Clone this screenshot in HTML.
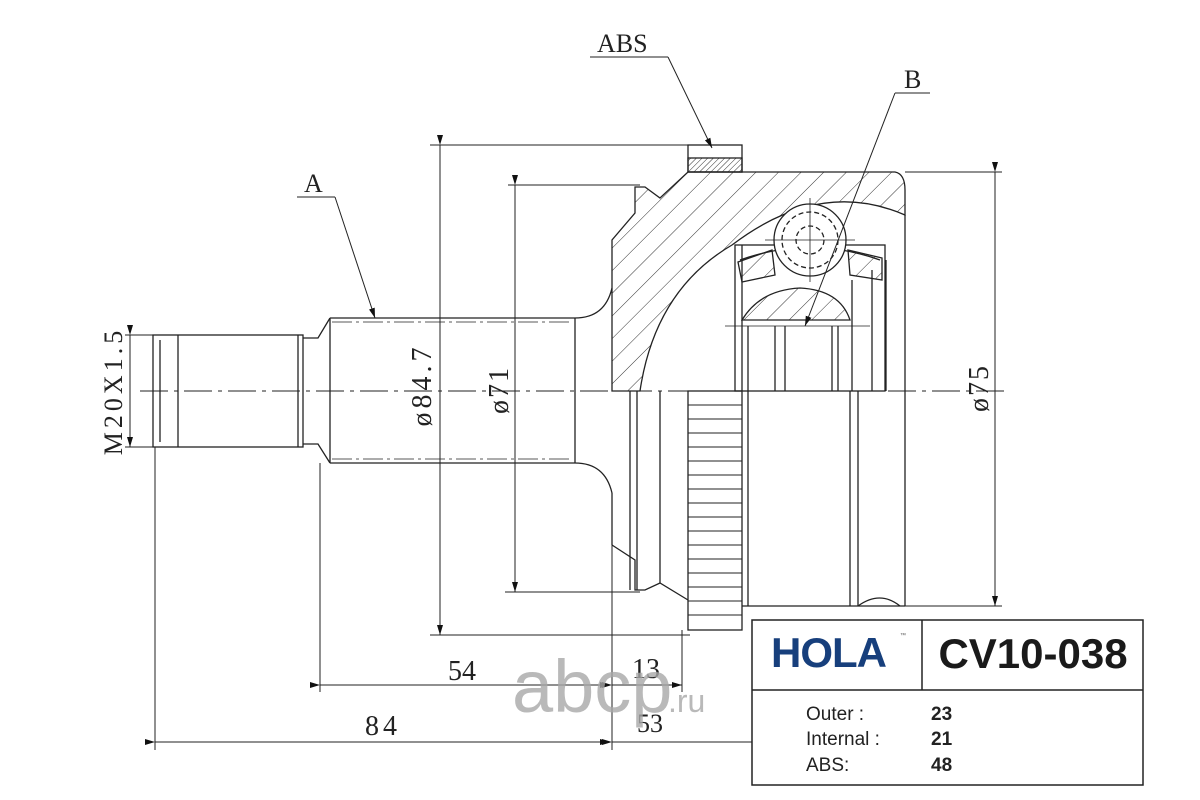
<!DOCTYPE html>
<html><head><meta charset="utf-8"><style>
html,body{margin:0;padding:0;background:#fff;}
svg{display:block;}
.s{font-family:"Liberation Serif",serif;fill:#222;}
</style></head><body>
<svg width="1200" height="800" viewBox="0 0 1200 800" xmlns="http://www.w3.org/2000/svg">
<defs>
<pattern id="h" width="16" height="16" patternUnits="userSpaceOnUse" patternTransform="rotate(45)">
<line x1="0" y1="0" x2="0" y2="16" stroke="#333" stroke-width="1"/></pattern>
<pattern id="h2" width="4" height="4" patternUnits="userSpaceOnUse" patternTransform="rotate(45)">
<line x1="0" y1="0" x2="0" y2="4" stroke="#333" stroke-width="1"/></pattern>
<marker id="ar" markerWidth="10" markerHeight="6" refX="10" refY="3" orient="auto" markerUnits="userSpaceOnUse"><path d="M0,0 L10,3 L0,6 Z" fill="#111"/></marker>
</defs>
<g stroke="#222" stroke-width="1.3" fill="none">
<line x1="140" y1="391" x2="1010" y2="391" stroke-dasharray="28,6,4,6" stroke-width="1"/>
<rect x="153" y="335" width="150" height="112"/>
<line x1="160" y1="340" x2="160" y2="442"/>
<line x1="178" y1="335" x2="178" y2="447"/>
<line x1="298" y1="335" x2="298" y2="447"/>
<polyline points="303,338 318,338 330,318"/>
<polyline points="303,444 318,444 330,463"/>
<line x1="330" y1="318" x2="575" y2="318"/>
<line x1="330" y1="463" x2="575" y2="463"/>
<line x1="330" y1="318" x2="330" y2="463"/>
<line x1="575" y1="318" x2="575" y2="463"/>
<line x1="332" y1="322" x2="573" y2="322" stroke-dasharray="20,4,3,4" stroke-width="0.8"/>
<line x1="332" y1="459" x2="573" y2="459" stroke-dasharray="20,4,3,4" stroke-width="0.8"/>
<path d="M575,318 Q605,318 612,288"/>
<path d="M575,463 Q605,463 612,493"/>
<path d="M612,391 L612,240 L635,213 L635,187 L645,187 L660,198 L688,172 L895,172 Q905,174 905,190 L905,215 Q820,178 732,245 Q655,290 640,391 Z" fill="url(#h)"/>
<rect x="688" y="145" width="54" height="27"/>
<rect x="688" y="158" width="54" height="14" fill="url(#h2)"/>
<path d="M905,215 L905,606"/>
<rect x="735" y="245" width="150" height="146" fill="none"/>
<path d="M740,260 Q810,235 880,260" />
<path d="M742,320 Q760,290 800,288 Q840,290 850,320 Z" fill="url(#h)"/>
<path d="M738,262 L772,250 L775,275 L742,282 Z" fill="url(#h)"/>
<path d="M848,250 L882,258 L882,280 L850,275 Z" fill="url(#h)"/>
<circle cx="810" cy="240" r="36" fill="#fff"/>
<circle cx="810" cy="240" r="28" stroke-dasharray="5,3"/>
<circle cx="810" cy="240" r="14" stroke-dasharray="5,3"/>
<line x1="765" y1="240" x2="855" y2="240" stroke-width="0.8"/>
<line x1="810" y1="198" x2="810" y2="282" stroke-width="0.8"/>
<line x1="725" y1="326" x2="870" y2="326" stroke-width="0.8"/>
<line x1="742" y1="245" x2="742" y2="391"/>
<line x1="748" y1="326" x2="748" y2="391"/>
<line x1="775" y1="326" x2="775" y2="391"/>
<line x1="785" y1="326" x2="785" y2="391"/>
<line x1="832" y1="326" x2="832" y2="391"/>
<line x1="838" y1="326" x2="838" y2="391"/>
<line x1="852" y1="280" x2="852" y2="391"/>
<line x1="872" y1="270" x2="872" y2="391"/>
<line x1="886" y1="260" x2="886" y2="391"/>
<line x1="612" y1="493" x2="612" y2="545"/>
<polyline points="612,545 635,560 635,590 645,590 660,583 688,600"/>
<line x1="630" y1="391" x2="630" y2="590"/>
<line x1="637" y1="391" x2="637" y2="590"/>
<line x1="660" y1="391" x2="660" y2="583"/>
<rect x="688" y="391" width="54" height="239"/>
<g stroke-width="1">
<line x1="688" y1="405" x2="742" y2="405"/><line x1="688" y1="419" x2="742" y2="419"/><line x1="688" y1="433" x2="742" y2="433"/><line x1="688" y1="447" x2="742" y2="447"/><line x1="688" y1="461" x2="742" y2="461"/><line x1="688" y1="475" x2="742" y2="475"/><line x1="688" y1="489" x2="742" y2="489"/><line x1="688" y1="503" x2="742" y2="503"/><line x1="688" y1="517" x2="742" y2="517"/><line x1="688" y1="531" x2="742" y2="531"/><line x1="688" y1="545" x2="742" y2="545"/><line x1="688" y1="559" x2="742" y2="559"/><line x1="688" y1="573" x2="742" y2="573"/><line x1="688" y1="587" x2="742" y2="587"/><line x1="688" y1="601" x2="742" y2="601"/><line x1="688" y1="615" x2="742" y2="615"/>
</g>
<line x1="748" y1="391" x2="748" y2="606"/>
<line x1="850" y1="391" x2="850" y2="606"/>
<line x1="858" y1="391" x2="858" y2="606"/>
<line x1="742" y1="606" x2="905" y2="606"/>
<path d="M858,606 Q880,590 900,606"/>
<g stroke-width="1">
<line x1="430" y1="145" x2="688" y2="145"/>
<line x1="430" y1="635" x2="690" y2="635"/>
<line x1="440" y1="145" x2="440" y2="635" marker-start="url(#ar)" marker-end="url(#ar)"/>
<line x1="508" y1="185" x2="640" y2="185"/>
<line x1="505" y1="592" x2="640" y2="592"/>
<line x1="515" y1="185" x2="515" y2="592" marker-start="url(#ar)" marker-end="url(#ar)"/>
<line x1="905" y1="172" x2="1002" y2="172"/>
<line x1="742" y1="606" x2="1002" y2="606"/>
<line x1="995" y1="172" x2="995" y2="606" marker-start="url(#ar)" marker-end="url(#ar)"/>
<line x1="125" y1="335" x2="153" y2="335"/>
<line x1="125" y1="447" x2="153" y2="447"/>
<line x1="130" y1="335" x2="130" y2="447" marker-start="url(#ar)" marker-end="url(#ar)"/>
<line x1="155" y1="447" x2="155" y2="750"/>
<line x1="320" y1="463" x2="320" y2="692"/>
<line x1="612" y1="545" x2="612" y2="750"/>
<line x1="682" y1="630" x2="682" y2="692"/>
<line x1="320" y1="685" x2="610" y2="685" marker-start="url(#ar)" marker-end="url(#ar)"/>
<line x1="612" y1="685" x2="682" y2="685" marker-start="url(#ar)" marker-end="url(#ar)"/>
<line x1="155" y1="742" x2="610" y2="742" marker-start="url(#ar)" marker-end="url(#ar)"/>
<line x1="612" y1="742" x2="752" y2="742" marker-start="url(#ar)"/>
<line x1="590" y1="57" x2="668" y2="57"/>
<line x1="668" y1="57" x2="712" y2="148" marker-end="url(#ar)"/>
<line x1="895" y1="93" x2="930" y2="93"/>
<line x1="895" y1="93" x2="805" y2="326" marker-end="url(#ar)"/>
<line x1="297" y1="197" x2="335" y2="197"/>
<line x1="335" y1="197" x2="375" y2="318" marker-end="url(#ar)"/>
</g>
</g>
<text class="s" x="597" y="52" font-size="26">ABS</text>
<text class="s" x="904" y="88" font-size="26">B</text>
<text class="s" x="304" y="192" font-size="26">A</text>
<text class="s" font-size="26" letter-spacing="4" text-anchor="middle" transform="translate(122,391) rotate(-90)">M20X1.5</text>
<text class="s" font-size="28" letter-spacing="4" text-anchor="middle" transform="translate(431,385) rotate(-90)">ø84.7</text>
<text class="s" font-size="28" letter-spacing="2" text-anchor="middle" transform="translate(508,390) rotate(-90)">ø71</text>
<text class="s" font-size="28" letter-spacing="2" text-anchor="middle" transform="translate(988,388) rotate(-90)">ø75</text>
<text class="s" x="448" y="680" font-size="28">54</text>
<text class="s" x="632" y="678" font-size="28">13</text>
<text class="s" x="365" y="735" font-size="28" letter-spacing="4">84</text>
<text class="s" x="637" y="732" font-size="26">53</text>
<text x="512" y="712" font-family="Liberation Sans,sans-serif" font-size="74" fill="#a8a8a8" fill-opacity="0.8">abcp</text>
<text x="668" y="712" font-family="Liberation Sans,sans-serif" font-size="32" fill="#a8a8a8" fill-opacity="0.8">.ru</text>
<g stroke="#222" stroke-width="1.5" fill="none">
<rect x="752" y="620" width="391" height="165" fill="#fff"/>
<line x1="752" y1="690" x2="1143" y2="690"/>
<line x1="922" y1="620" x2="922" y2="690"/>
</g>
<text x="771" y="667" font-family="Liberation Sans,sans-serif" font-size="42" font-weight="bold" fill="#173f7c" letter-spacing="-1">HOLA</text>
<text x="900" y="637" font-family="Liberation Sans,sans-serif" font-size="6" fill="#555">™</text>
<text x="1033" y="668" font-family="Liberation Sans,sans-serif" font-size="42" font-weight="bold" fill="#1a1a1a" text-anchor="middle">CV10-038</text>
<g font-family="Liberation Sans,sans-serif" font-size="19" fill="#222">
<text x="806" y="720">Outer :</text>
<text x="806" y="745">Internal :</text>
<text x="806" y="771">ABS:</text>
<text x="931" y="720" font-weight="bold">23</text>
<text x="931" y="745" font-weight="bold">21</text>
<text x="931" y="771" font-weight="bold">48</text>
</g>
</svg>
</body></html>
